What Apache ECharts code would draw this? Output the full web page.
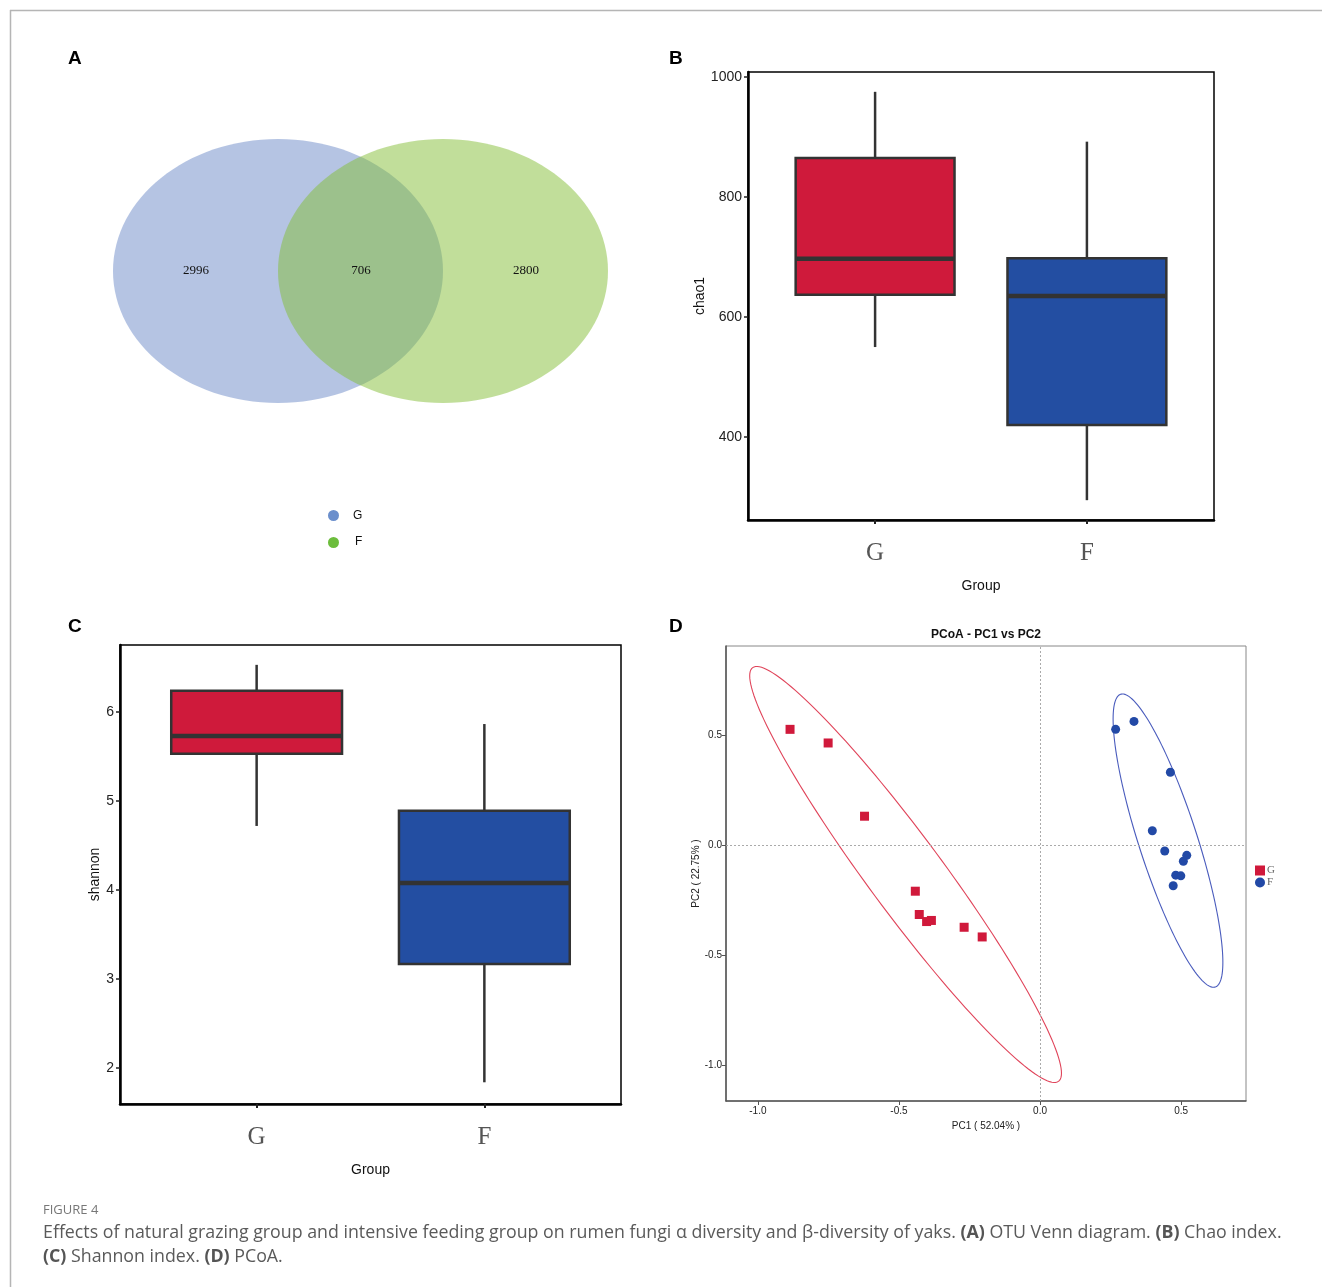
<!DOCTYPE html>
<html><head><meta charset="utf-8">
<script src="https://cdn.jsdelivr.net/npm/echarts@6/dist/echarts.min.js"></script>
<style>html,body{margin:0;padding:0;background:#fff}#c{width:1322px;height:1287px}</style>
</head><body><div id="c"></div>
<script>
// ---------- DATA ----------
// A: Venn (OTUs)
const vennSets = ['G', 'F'];
const vennCounts = [2996, 706, 2800]; // G only, shared, F only
// B: chao1 box stats [min, Q1, median, Q3, max]
const groups = ['G', 'F'];
const chaoG = [550, 637, 697, 865, 975];
const chaoF = [295, 420, 635, 698, 892];
const chaoTicks = [400, 600, 800, 1000];
// C: shannon box stats [min, Q1, median, Q3, max]
const shanG = [4.72, 5.53, 5.73, 6.24, 6.53];
const shanF = [1.84, 3.17, 4.08, 4.89, 5.865];
const shanTicks = [2, 3, 4, 5, 6];
// D: PCoA coordinates
const pcoaG_pc1 = [-0.886, -0.751, -0.622, -0.442, -0.428, -0.402, -0.385, -0.269, -0.205];
const pcoaG_pc2 = [0.526, 0.464, 0.131, -0.210, -0.316, -0.348, -0.343, -0.374, -0.418];
const pcoaF_pc1 = [0.268, 0.333, 0.462, 0.398, 0.442, 0.520, 0.508, 0.481, 0.499, 0.472];
const pcoaF_pc2 = [0.526, 0.562, 0.331, 0.065, -0.027, -0.047, -0.074, -0.137, -0.140, -0.185];
// confidence ellipses: [centerPC1, centerPC2, radiusPC1, radiusPC2, phase(deg)]
const ellipseG = [-0.4765, -0.134, 0.5525, 0.946, 162.75];
const ellipseF = [0.4535, 0.02, 0.1945, 0.667, 146];
const pcoaTicks = [-1.0, -0.5, 0.0, 0.5];

// ---------- STYLE ----------
const boxColors = ['#cf1a3b', '#234ea2'];
const ellColors = ['#e0445a', '#4a5cbd'];
const SANS = 'Liberation Sans, Arial, sans-serif';
const SERIF = 'Liberation Serif, Times New Roman, serif';

function boxRender(params, api) {
  const x = api.value(0);
  const lo = api.value(1), q1 = api.value(2), md = api.value(3), q3 = api.value(4), hi = api.value(5);
  const hw = 0.375;
  const pHi = api.coord([x, hi]), pQ3 = api.coord([x, q3]), pQ1 = api.coord([x, q1]), pLo = api.coord([x, lo]);
  const tl = api.coord([x - hw, q3]), br = api.coord([x + hw, q1]);
  const m1 = api.coord([x - hw, md]), m2 = api.coord([x + hw, md]);
  const st = { stroke: '#333', lineWidth: 2.5 };
  return {
    type: 'group', children: [
      { type: 'line', shape: { x1: pHi[0], y1: pHi[1], x2: pQ3[0], y2: pQ3[1] }, style: st },
      { type: 'line', shape: { x1: pQ1[0], y1: pQ1[1], x2: pLo[0], y2: pLo[1] }, style: st },
      { type: 'rect', shape: { x: tl[0], y: tl[1], width: br[0] - tl[0], height: br[1] - tl[1] },
        style: { fill: boxColors[params.dataIndex], stroke: '#333', lineWidth: 2.5 } },
      { type: 'line', shape: { x1: m1[0], y1: m1[1], x2: m2[0], y2: m2[1] }, style: { stroke: '#333', lineWidth: 4.5 } }
    ]
  };
}

function ellRender(params, api) {
  const cx = api.value(0), cy = api.value(1), rx = api.value(2), ry = api.value(3), ph = api.value(4) * Math.PI / 180;
  const pts = [];
  for (let i = 0; i <= 160; i++) {
    const t = i / 160 * 2 * Math.PI;
    pts.push(api.coord([cx + rx * Math.cos(t), cy + ry * Math.cos(t - ph)]));
  }
  return { type: 'polyline', shape: { points: pts }, style: { stroke: ellColors[params.dataIndex], lineWidth: 1.1, fill: null } };
}

function boxXAxis(gi) {
  return {
    gridIndex: gi, type: 'value', min: 0.4, max: 2.6,
    name: 'Group', nameLocation: 'middle', nameGap: 59,
    nameTextStyle: { fontFamily: SANS, fontSize: 14, color: '#111' },
    axisLine: { show: true, onZero: false, lineStyle: { color: '#000', width: 2.5 } },
    axisTick: { show: true, customValues: [1, 2], length: 4, lineStyle: { color: '#222', width: 2 } },
    axisLabel: { customValues: [1, 2], margin: 21, fontFamily: SERIF, fontSize: 25, color: '#555',
      formatter: v => groups[Math.round(v) - 1] },
    splitLine: { show: false }
  };
}
function boxYAxis(gi, min, max, ticks, name, gap) {
  return {
    gridIndex: gi, type: 'value', min: min, max: max,
    name: name, nameLocation: 'middle', nameGap: gap, nameRotate: 90,
    nameTextStyle: { fontFamily: SANS, fontSize: 14, color: '#111' },
    axisLine: { show: true, onZero: false, lineStyle: { color: '#000', width: 2.5 } },
    axisTick: { show: true, customValues: ticks, length: 4, lineStyle: { color: '#222', width: 1.5 } },
    axisLabel: { customValues: ticks, margin: 6, fontFamily: SANS, fontSize: 14, color: '#222', formatter: v => String(v) },
    splitLine: { show: false }
  };
}

const option = {
  animation: false,
  backgroundColor: '#fff',
  grid: [
    { left: 748, top: 72, width: 466, height: 448, show: true, borderColor: '#000', borderWidth: 1.5 },
    { left: 120, top: 645, width: 501, height: 459, show: true, borderColor: '#000', borderWidth: 1.5 },
    { left: 726, top: 646, width: 520, height: 455, show: true, borderColor: '#888', borderWidth: 1 }
  ],
  xAxis: [
    boxXAxis(0),
    boxXAxis(1),
    {
      gridIndex: 2, type: 'value', min: -1.113, max: 0.73,
      name: 'PC1 ( 52.04% )', nameLocation: 'middle', nameGap: 20,
      nameTextStyle: { fontFamily: SANS, fontSize: 10, color: '#222' },
      axisLine: { show: true, onZero: false, lineStyle: { color: '#555', width: 1.5 } },
      axisTick: { show: true, customValues: pcoaTicks, length: 4, lineStyle: { color: '#555' } },
      axisLabel: { customValues: pcoaTicks, margin: 5, fontFamily: SANS, fontSize: 10, color: '#222', formatter: v => v.toFixed(1) },
      splitLine: { show: false }
    }
  ],
  yAxis: [
    boxYAxis(0, 262, 1008, chaoTicks, 'chao1', 40),
    boxYAxis(1, 1.596, 6.753, shanTicks, 'shannon', 16),
    {
      gridIndex: 2, type: 'value', min: -1.164, max: 0.905,
      name: 'PC2 ( 22.75% )', nameLocation: 'middle', nameGap: 25, nameRotate: 90,
      nameTextStyle: { fontFamily: SANS, fontSize: 10, color: '#222' },
      axisLine: { show: true, onZero: false, lineStyle: { color: '#555', width: 1.5 } },
      axisTick: { show: true, customValues: pcoaTicks, length: 4, lineStyle: { color: '#555' } },
      axisLabel: { customValues: pcoaTicks, margin: 4, fontFamily: SANS, fontSize: 10, color: '#222', formatter: v => v.toFixed(1) },
      splitLine: { show: false }
    }
  ],
  legend: {
    data: ['G', 'F'], orient: 'vertical', left: 1255, top: 865, padding: 0,
    itemWidth: 10, itemHeight: 10, itemGap: 1, selectedMode: false,
    textStyle: { fontFamily: SERIF, fontSize: 11, color: '#666', padding: [0, 0, 0, -3] }
  },
  series: [
    { type: 'custom', name: 'chao1', xAxisIndex: 0, yAxisIndex: 0, renderItem: boxRender,
      encode: { x: 0, y: [1, 2, 3, 4, 5] }, data: [[1, ...chaoG], [2, ...chaoF]], silent: true },
    { type: 'custom', name: 'shannon', xAxisIndex: 1, yAxisIndex: 1, renderItem: boxRender,
      encode: { x: 0, y: [1, 2, 3, 4, 5] }, data: [[1, ...shanG], [2, ...shanF]], silent: true },
    { type: 'custom', name: 'ellipse', xAxisIndex: 2, yAxisIndex: 2, renderItem: ellRender,
      encode: { x: 0, y: 1 }, data: [ellipseG, ellipseF], silent: true, z: 1 },
    { type: 'scatter', name: 'G', xAxisIndex: 2, yAxisIndex: 2, symbol: 'rect', symbolSize: 9,
      itemStyle: { color: '#d0193b', opacity: 1 }, z: 3,
      data: pcoaG_pc1.map((v, i) => [v, pcoaG_pc2[i]]),
      markLine: { silent: true, symbol: 'none', label: { show: false },
        lineStyle: { type: [2, 2], color: '#aaa', width: 1 }, data: [{ xAxis: 0 }, { yAxis: 0 }] } },
    { type: 'scatter', name: 'F', xAxisIndex: 2, yAxisIndex: 2, symbol: 'circle', symbolSize: 9,
      itemStyle: { color: '#2249a6', opacity: 1 }, z: 3,
      data: pcoaF_pc1.map((v, i) => [v, pcoaF_pc2[i]]) }
  ],
  graphic: [
    // page frame
    { type: 'line', shape: { x1: 10, y1: 10.5, x2: 1322, y2: 10.5 }, style: { stroke: '#b5b5b5', lineWidth: 1.5 } },
    { type: 'line', shape: { x1: 10.5, y1: 10, x2: 10.5, y2: 1287 }, style: { stroke: '#b5b5b5', lineWidth: 1.5 } },
    // panel letters
    { type: 'text', left: 68, top: 49, style: { text: 'A', font: 'bold 19px ' + SANS, fill: '#000' } },
    { type: 'text', left: 669, top: 49, style: { text: 'B', font: 'bold 19px ' + SANS, fill: '#000' } },
    { type: 'text', left: 68, top: 617, style: { text: 'C', font: 'bold 19px ' + SANS, fill: '#000' } },
    { type: 'text', left: 669, top: 617, style: { text: 'D', font: 'bold 19px ' + SANS, fill: '#000' } },
    // Venn
    { type: 'ellipse', shape: { cx: 278, cy: 271, rx: 165, ry: 132 }, style: { fill: 'rgba(107,137,199,0.5)' } },
    { type: 'ellipse', shape: { cx: 443, cy: 271, rx: 165, ry: 132 }, style: { fill: 'rgba(131,189,53,0.5)' } },
    { type: 'text', x: 196, y: 271, style: { text: String(vennCounts[0]), font: '13px ' + SERIF, fill: '#111', align: 'center', verticalAlign: 'middle' } },
    { type: 'text', x: 361, y: 271, style: { text: String(vennCounts[1]), font: '13px ' + SERIF, fill: '#111', align: 'center', verticalAlign: 'middle' } },
    { type: 'text', x: 526, y: 271, style: { text: String(vennCounts[2]), font: '13px ' + SERIF, fill: '#111', align: 'center', verticalAlign: 'middle' } },
    { type: 'circle', shape: { cx: 333.5, cy: 515.5, r: 5.5 }, style: { fill: '#6b8fcc' } },
    { type: 'circle', shape: { cx: 333.5, cy: 542.5, r: 5.5 }, style: { fill: '#6cbd3c' } },
    { type: 'text', x: 353, y: 516, style: { text: vennSets[0], font: '12px ' + SANS, fill: '#111', verticalAlign: 'middle' } },
    { type: 'text', x: 355, y: 542, style: { text: vennSets[1], font: '12px ' + SANS, fill: '#111', verticalAlign: 'middle' } },
    // PCoA title
    { type: 'text', x: 986, y: 635, style: { text: 'PCoA - PC1 vs PC2', font: 'bold 12px ' + SANS, fill: '#111', align: 'center', verticalAlign: 'middle' } },
    // caption
    { type: 'text', x: 43, y: 1210, style: { text: 'FIGURE 4', font: '13px Open Sans, sans-serif', fill: '#777', verticalAlign: 'middle' } },
    { type: 'text', x: 43, y: 1233, style: {
      text: '{n|Effects of natural grazing group and intensive feeding group on rumen fungi α diversity and β-diversity of yaks. }{b|(A)}{n| OTU Venn diagram. }{b|(B)}{n| Chao index.}',
      verticalAlign: 'middle',
      rich: { n: { font: '17.8px Open Sans, sans-serif', fill: '#5a5a5a' }, b: { font: 'bold 17.8px Open Sans, sans-serif', fill: '#555' } } } },
    { type: 'text', x: 43, y: 1257, style: {
      text: '{b|(C)}{n| Shannon index. }{b|(D)}{n| PCoA.}',
      verticalAlign: 'middle',
      rich: { n: { font: '17.8px Open Sans, sans-serif', fill: '#5a5a5a' }, b: { font: 'bold 17.8px Open Sans, sans-serif', fill: '#555' } } } }
  ]
};

const chart = echarts.init(document.getElementById('c'), null, { renderer: 'canvas', width: 1322, height: 1287 });
chart.setOption(option);
</script>
</body></html>
